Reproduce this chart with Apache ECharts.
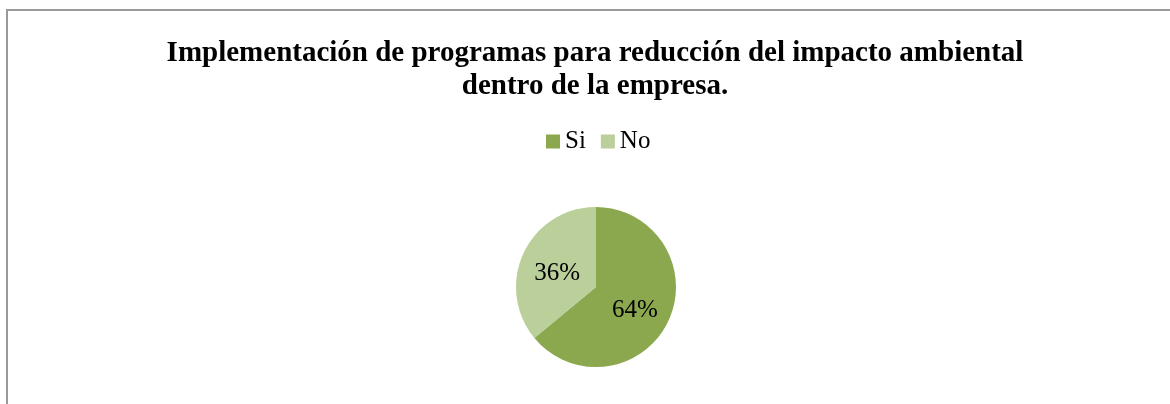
<!DOCTYPE html>
<html>
<head>
<meta charset="utf-8">
<script src="https://cdn.jsdelivr.net/npm/echarts@6/dist/echarts.min.js"></script>
<style>
  html, body { margin: 0; padding: 0; background: #fff; }
  #chart { width: 1170px; height: 404px; }
</style>
</head>
<body>
<div id="chart"></div>
<script type="text/javascript">
    var titleText = 'Implementación de programas para reducción del impacto ambiental\ndentro de la empresa.';
    var categories = ['Si', 'No'];
    var values = [64, 36];
    var colors = ['#8BA84F', '#BACF9A'];

    var myChart = echarts.init(document.getElementById('chart'));

    var data = [];
    for (var i = 0; i < categories.length; i++) {
        data.push({ name: categories[i], value: values[i], itemStyle: { color: colors[i] } });
    }

    var option = {
        backgroundColor: '#fff',
        animation: false,
        graphic: [
            {
                type: 'rect',
                shape: { x: 7, y: 10, width: 1300, height: 500 },
                style: { fill: 'none', stroke: '#999', lineWidth: 2 }
            },
            {
                // title, centred on the plot rather than the canvas
                type: 'text',
                x: 595,
                y: 37,
                style: {
                    text: titleText,
                    align: 'center',
                    verticalAlign: 'top',
                    fontFamily: 'Liberation Serif',
                    fontWeight: 'bold',
                    fontSize: 29,
                    lineHeight: 33,
                    fill: '#000'
                }
            }
        ],
        legend: {
            data: categories,
            top: 129,
            left: 546,
            padding: 0,
            itemWidth: 14,
            itemHeight: 14,
            itemGap: 15,
            icon: 'rect',
            textStyle: {
                fontFamily: 'Liberation Serif',
                fontSize: 25,
                color: '#000'
            }
        },
        series: [
            {
                type: 'pie',
                radius: 80,
                center: [596, 287],
                startAngle: 90,
                clockwise: true,
                data: data,
                label: {
                    position: 'inside',
                    formatter: '{d}%',
                    fontFamily: 'Liberation Serif',
                    fontSize: 25,
                    color: '#000'
                },
                labelLayout: { dy: 5 },
                labelLine: { show: false },
                itemStyle: { borderWidth: 0 },
                emphasis: { disabled: true }
            }
        ]
    };

    myChart.setOption(option);
</script>
</body>
</html>
